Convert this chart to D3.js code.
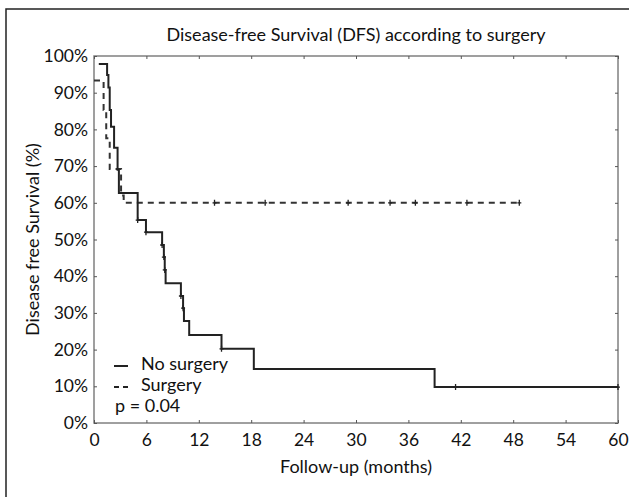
<!DOCTYPE html>
<html><head><meta charset="utf-8">
<script src="https://cdn.jsdelivr.net/npm/d3@7"></script>
<style>body{margin:0;background:#fff}svg{display:block}text{font-family:Lato,"Open Sans",sans-serif;fill:#111}</style>
</head><body><svg id="c" width="629" height="497"></svg>
<script>
// ---- data ----
const title = "Disease-free Survival (DFS) according to surgery";
const xLabel = "Follow-up (months)";
const yLabel = "Disease free Survival (%)";
const xTicks = [0, 6, 12, 18, 24, 30, 36, 42, 48, 54, 60];
const yTicks = [0, 10, 20, 30, 40, 50, 60, 70, 80, 90, 100];
const seriesNames = ["No surgery", "Surgery"];
const pValue = "p = 0.04";
// No surgery (solid) step curve
const noSurgTime = [0.55, 1.5, 1.65, 1.8, 1.95, 2.3, 2.7, 2.85, 5.0, 5.95, 7.8, 8.0, 8.1, 8.2, 9.95, 10.2, 10.3, 10.9, 14.6, 18.3, 39.0, 60];
const noSurgSurv = [97.8, 94.8, 91.4, 85.3, 80.7, 75.0, 69.0, 62.7, 55.3, 52.0, 48.5, 45.2, 41.7, 38.1, 34.6, 31.3, 27.8, 24.0, 20.2, 14.7, 9.8, 9.8];
const noSurgCensor = [5.0, 5.95, 7.8, 8.0, 8.1, 9.95, 10.2, 14.6, 41.4, 60];
// Surgery (dashed) step curve
const surgTime = [0, 1.1, 1.4, 1.8, 3.1, 3.4, 48.9];
const surgSurv = [93.3, 85.3, 77.6, 69.2, 62.0, 60.0, 60.0];
const surgCensor = [13.8, 19.6, 29.1, 33.9, 36.8, 42.7, 48.7];

// ---- layout ----
const svg = d3.select("#c");
const L = 94, R = 618, T = 56, B = 423;
const x = d3.scaleLinear().domain([0, 60]).range([L, R]);
const y = d3.scaleLinear().domain([0, 100]).range([B, T]);

// outer frame (top and left lines)
svg.append("path").attr("d", `M6,497V9H629`).attr("fill","none").attr("stroke","#222").attr("stroke-width",1.5);

// plot box
svg.append("rect").attr("x",L).attr("y",T).attr("width",R-L).attr("height",B-T)
  .attr("fill","none").attr("stroke","#808080").attr("stroke-width",1.5);

// axes
const xAxis = svg.append("g").attr("transform",`translate(0,${B})`)
  .call(d3.axisBottom(x).tickValues(xTicks).tickSize(-3).tickPadding(11).tickFormat(d3.format("d")));
const yAxis = svg.append("g").attr("transform",`translate(${L},0)`)
  .call(d3.axisLeft(y).tickValues(yTicks).tickSize(-3).tickPadding(6).tickFormat(d => d + "%"));
[xAxis, yAxis].forEach(g => {
  g.select(".domain").remove();
  g.selectAll("line").attr("stroke","#555");
  g.selectAll("text").style("font-size","17.5px").attr("fill","#111");
});
// right side ticks
svg.append("g").attr("transform",`translate(${R},0)`)
  .call(d3.axisRight(y).tickValues(yTicks).tickSize(-3).tickFormat(""))
  .call(g => { g.select(".domain").remove(); g.selectAll("line").attr("stroke","#555"); });
svg.append("g").attr("transform",`translate(0,${T})`)
  .call(d3.axisTop(x).tickValues(xTicks).tickSize(-3).tickFormat(""))
  .call(g => { g.select(".domain").remove(); g.selectAll("line").attr("stroke","#555"); });

// titles
svg.append("text").attr("x",(L+R)/2).attr("y",41).attr("text-anchor","middle").style("font-size","18px").text(title);
svg.append("text").attr("x",(L+R)/2).attr("y",473).attr("text-anchor","middle").style("font-size","18px").text(xLabel);
svg.append("text").attr("transform",`translate(39,${(T+B)/2}) rotate(-90)`).attr("text-anchor","middle").style("font-size","18px").text(yLabel);

// curves
const line = d3.line().x(d => x(d[0])).y(d => y(d[1])).curve(d3.curveStepAfter);
const stepAt = (times, surv, t) => { let v = surv[0]; times.forEach((tt,i) => { if (tt <= t) v = surv[i]; }); return v; };
const noSurg = noSurgTime.map((t,i) => [t, noSurgSurv[i]]);
const surg = surgTime.map((t,i) => [t, surgSurv[i]]);
svg.append("path").attr("d", line(surg)).attr("fill","none").attr("stroke","#333").attr("stroke-width",2).attr("stroke-dasharray","6,5");
svg.append("path").attr("d", line(noSurg)).attr("fill","none").attr("stroke","#222").attr("stroke-width",2);

function censor(times, tArr, sArr) {
  svg.append("g").selectAll("path").data(times).join("path")
    .attr("d", t => `M${x(t)},${y(stepAt(tArr,sArr,t))-3}v6M${x(t)-2},${y(stepAt(tArr,sArr,t))}h4`)
    .attr("stroke","#222").attr("stroke-width",1.3);
}
censor(noSurgCensor, noSurgTime, noSurgSurv);
censor(surgCensor, surgTime, surgSurv);

// legend
const lg = svg.append("g");
lg.append("line").attr("x1",114).attr("x2",128).attr("y1",366).attr("y2",366).attr("stroke","#222").attr("stroke-width",2);
lg.append("line").attr("x1",114).attr("x2",128).attr("y1",387).attr("y2",387).attr("stroke","#222").attr("stroke-width",2).attr("stroke-dasharray","5,4");
lg.append("text").attr("x",141).attr("y",370).style("font-size","18px").text(seriesNames[0]);
lg.append("text").attr("x",141).attr("y",391).style("font-size","18px").text(seriesNames[1]);
lg.append("text").attr("x",115).attr("y",412).style("font-size","18px").text(pValue);
</script></body></html>
